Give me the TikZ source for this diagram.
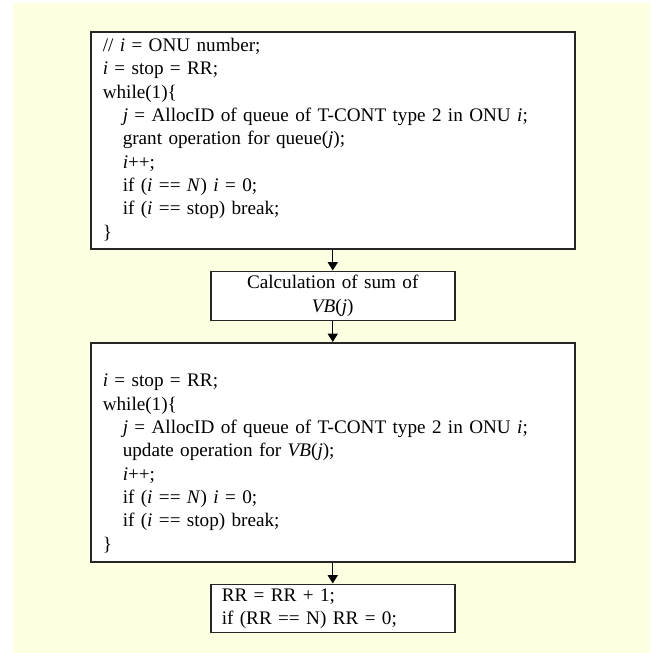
\documentclass[tikz,border=0pt]{standalone}
\usepackage{fontspec}
\setmainfont{Liberation Serif}
\usepackage{tikz}
\usetikzlibrary{arrows.meta, positioning}
\definecolor{notepaper}{RGB}{255,255,225}
\newcommand{\codeind}{\hspace*{12pt}}
\tikzset{
    codeblock/.style={rectangle, draw=black!85, line width=0.9pt, fill=white, align=left, text width=276pt, inner xsep=7.2pt, inner ysep=0pt, font=\fontsize{11.5pt}{14pt}\selectfont},
    smallblock/.style={codeblock, text width=133.2pt, inner xsep=6.6pt},
    flowarrow/.style={line width=0.8pt, -{Triangle[width=6pt, length=5pt]}}
}

\begin{document}
\begin{tikzpicture}[x=0.6pt, y=-0.6pt, node distance=12.6pt]
            \useasboundingbox (0,0) rectangle (650,653);
            \fill[notepaper] (13,3) rectangle (650,653);

            \node[codeblock, minimum height=130.2pt, anchor=north west] (grant) at (90,31) {
                \strut// \textit{i} = ONU number;\\
                \textit{i} = stop = RR;\\
                while(1)\{\\
                \codeind\textit{j} = AllocID of queue of T-CONT type 2 in ONU \textit{i};\\
                \codeind grant operation for queue(\textit{j});\\
                \codeind\textit{i}++;\\
                \codeind if (\textit{i} == \textit{N}) \textit{i} = 0;\\
                \codeind if (\textit{i} == stop) break;\\
                \}\strut
            };
            \node[smallblock, align=center, minimum height=29.4pt, below=of grant] (sum) {
                \strut Calculation of sum of\\
                \textit{VB}(\textit{j})\strut
            };
            \node[codeblock, minimum height=131.4pt, below=of sum] (update) {
                \strut\\
                \textit{i} = stop = RR;\\
                while(1)\{\\
                \codeind\textit{j} = AllocID of queue of T-CONT type 2 in ONU \textit{i};\\
                \codeind update operation for \textit{VB}(\textit{j});\\
                \codeind\textit{i}++;\\
                \codeind if (\textit{i} == \textit{N}) \textit{i} = 0;\\
                \codeind if (\textit{i} == stop) break;\\
                \}\strut
            };
            \node[smallblock, minimum height=28.8pt, below=of update] (rr) {
                \strut RR = RR + 1;\\
                if (RR == N) RR = 0;\strut
            };

            \draw[flowarrow] (grant) -- (sum);
            \draw[flowarrow] (sum) -- (update);
            \draw[flowarrow] (update) -- (rr);
        \end{tikzpicture}
\end{document}
